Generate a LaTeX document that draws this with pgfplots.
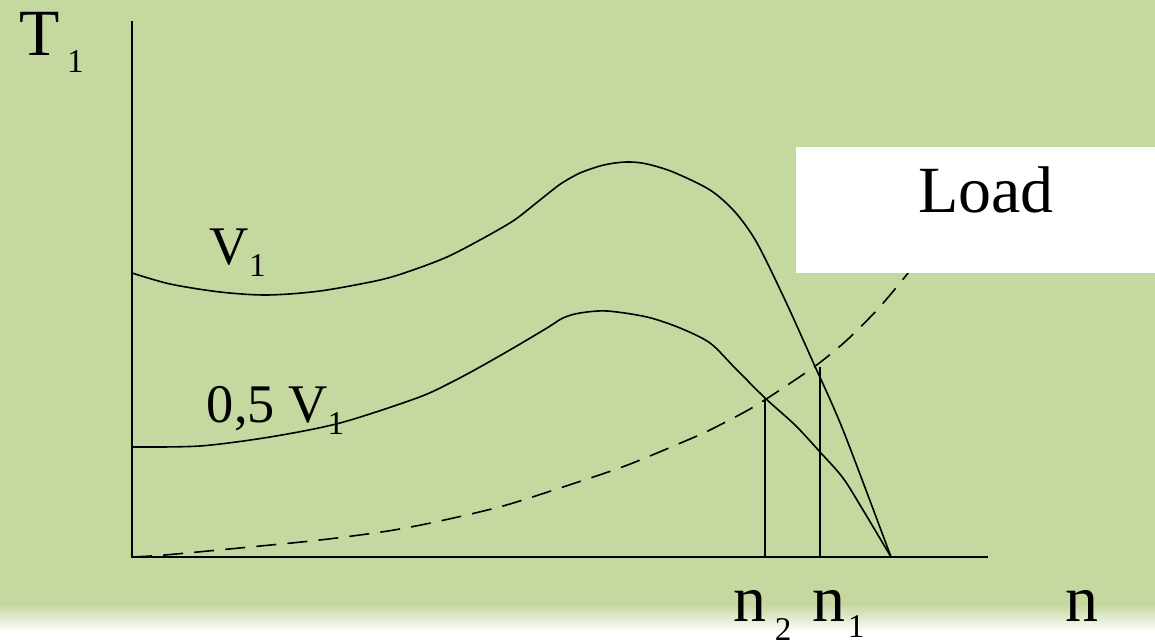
\documentclass[border=0pt]{standalone}
\usepackage{pgfplots}
\usepackage{pgfplotstable}
\pgfplotsset{compat=1.18}
\usepackage{fontspec}
\setmainfont{Liberation Serif}
\definecolor{bg}{RGB}{197,216,160}
\newcommand{\bigfs}{\fontsize{16.5}{18}\selectfont}
\newcommand{\midfs}{\fontsize{13.6}{15}\selectfont}
\newcommand{\subl}[2]{\raisebox{-#1}{\fontsize{8.3}{9}\selectfont #2}}

\pgfplotstableread{
x y
132 273
170 284
220 292
267 295
320 291
380 280
413 270
447 257
480 240
513 221
535 204
550 192
562 183
580 173
600 166
615 163
630 162
647 164
673 172
710 190
735 212
757 243
785 300
813 362
843 430
891 557
}\vone

\pgfplotstableread{
x y
132 447
200 446
270 437
340 423
417 398
450 383
480 367
515 347
547 328
563 318
580 313
607 311
647 317
680 328
710 343
735 368
765 398
795 425
820 452
843 478
863 510
891 557
}\vhalf

\pgfplotstableread{
x y
132 557
165 555
250 547
320 540
388 531
440 521
503 506
563 487
625 466
683 442
710 430
750 409
780 390
818 364
847 340
877 310
900 283
920 258
940 232
}\loadtab

\begin{document}
\begin{tikzpicture}[x=1pt,y=1pt]
\useasboundingbox (0,0) rectangle (288.75,160.25);
\begin{axis}[at={(0,0)},anchor=south west, scale only axis,
  width=288.75pt, height=160.25pt,
  xmin=0,xmax=1155,ymin=0,ymax=641, hide axis, clip=false]
\fill[bg] (axis cs:0,36) rectangle (axis cs:1155,641);
\shade[top color=bg, bottom color=white] (axis cs:0,9) rectangle (axis cs:1155,36.5);
% axes
\addplot[black, line width=0.45pt] coordinates {(132,620) (132,84) (988,84)};
% load curve
\addplot[black, line width=0.4pt, smooth, dash pattern=on 5pt off 2.8pt] table[x=x, y expr=641-\thisrow{y}] {\loadtab};
% torque curves
\addplot[black, line width=0.4pt, smooth] table[x=x, y expr=641-\thisrow{y}] {\vone};
\addplot[black, line width=0.4pt, smooth] table[x=x, y expr=641-\thisrow{y}] {\vhalf};
% operating points
\addplot[black, line width=0.4pt] coordinates {(765,243) (765,84)};
\addplot[black, line width=0.4pt] coordinates {(820,274) (820,84)};
% Load box
\fill[white] (axis cs:796,368) rectangle (axis cs:1155,494);
\node[anchor=base, inner sep=0pt] at (axis cs:986,428) {\bigfs Load};
% labels
\node[anchor=base west, inner sep=0pt] at (axis cs:19,585) {\bigfs T\kern1.75pt\subl{4.25pt}{1}};
\node[anchor=base west, inner sep=0pt] at (axis cs:209,376) {\midfs V\subl{3pt}{1}};
\node[anchor=base west, inner sep=0pt] at (axis cs:206,218) {\midfs 0,5 V\subl{3pt}{1}};
\node[anchor=base west, inner sep=0pt] at (axis cs:733,19) {\bigfs n\kern2pt\subl{4.5pt}{2}};
\node[anchor=base west, inner sep=0pt] at (axis cs:812,19) {\bigfs n\kern0.5pt\subl{4pt}{1}};
\node[anchor=base west, inner sep=0pt] at (axis cs:1065,19) {\bigfs n};
\end{axis}
\end{tikzpicture}
\end{document}
